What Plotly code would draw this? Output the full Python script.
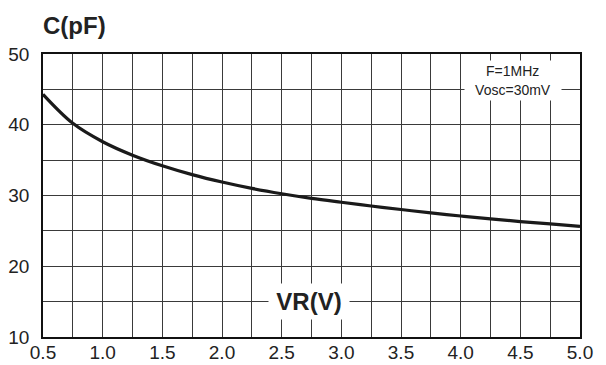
import plotly.graph_objects as go

# Capacitance vs. reverse voltage (F = 1 MHz, Vosc = 30 mV)
vr_volts = [0.5, 0.75, 1.0, 1.25, 1.5, 1.75, 2.0, 2.25, 2.5, 2.75,
            3.0, 3.25, 3.5, 3.75, 4.0, 4.25, 4.5, 4.75, 5.0]
cap_pf = [44.3, 40.2, 37.6, 35.7, 34.2, 32.95, 31.9, 31.0, 30.25, 29.6,
          29.05, 28.52, 28.02, 27.55, 27.1, 26.7, 26.32, 25.98, 25.65]

x_ticks = [0.5, 1.0, 1.5, 2.0, 2.5, 3.0, 3.5, 4.0, 4.5, 5.0]
y_ticks = [10, 20, 30, 40, 50]

FONT = "Arial, Liberation Sans, sans-serif"
GRID = "#3a3a3a"

fig = go.Figure()
fig.add_trace(go.Scatter(
    x=vr_volts, y=cap_pf, mode="lines",
    line=dict(color="#1a1a1a", width=3.2, shape="spline", smoothing=1.0),
    hoverinfo="skip", showlegend=False,
))

axis_common = dict(
    showline=True, linecolor="#111", linewidth=1.5, mirror=True,
    showgrid=True, gridcolor=GRID, gridwidth=1,
    ticks="", zeroline=False, automargin=False,
    tickfont=dict(family=FONT, size=19, color="#222"),
)

fig.update_xaxes(
    range=[0.5, 5.0], tickvals=x_ticks,
    ticktext=[f"{v:.1f}" for v in x_ticks],
    minor=dict(dtick=0.25, tick0=0.5, showgrid=True, gridcolor=GRID, gridwidth=1),
    ticklabelstandoff=-3,
    **axis_common,
)
fig.update_yaxes(
    range=[10, 50], tickvals=y_ticks,
    minor=dict(dtick=5, tick0=10, showgrid=True, gridcolor=GRID, gridwidth=1),
    ticklabelstandoff=8,
    **axis_common,
)

fig.add_annotation(
    xref="paper", yref="paper", x=0.0, y=1.0, xanchor="left", yanchor="middle",
    xshift=-2, yshift=29,
    text="<b>C(pF)</b>", showarrow=False,
    font=dict(family=FONT, size=24, color="#222"),
)
fig.add_annotation(
    x=2.73, y=15, text="<b>VR(V)</b>", showarrow=False,
    bgcolor="white", width=78, height=33,
    font=dict(family=FONT, size=24, color="#222"),
)
fig.add_annotation(
    x=4.06 + 0.5 * (4.82 - 4.06), y=46.2,
    text="F=1MHz<br>Vosc=30mV", showarrow=False,
    bgcolor="white", width=94, height=37,
    font=dict(family=FONT, size=14, color="#222"),
)

fig.update_layout(
    width=606, height=365,
    margin=dict(l=43, r=26, t=54, b=28),
    paper_bgcolor="white", plot_bgcolor="white",
)

fig.write_html("out.html")
